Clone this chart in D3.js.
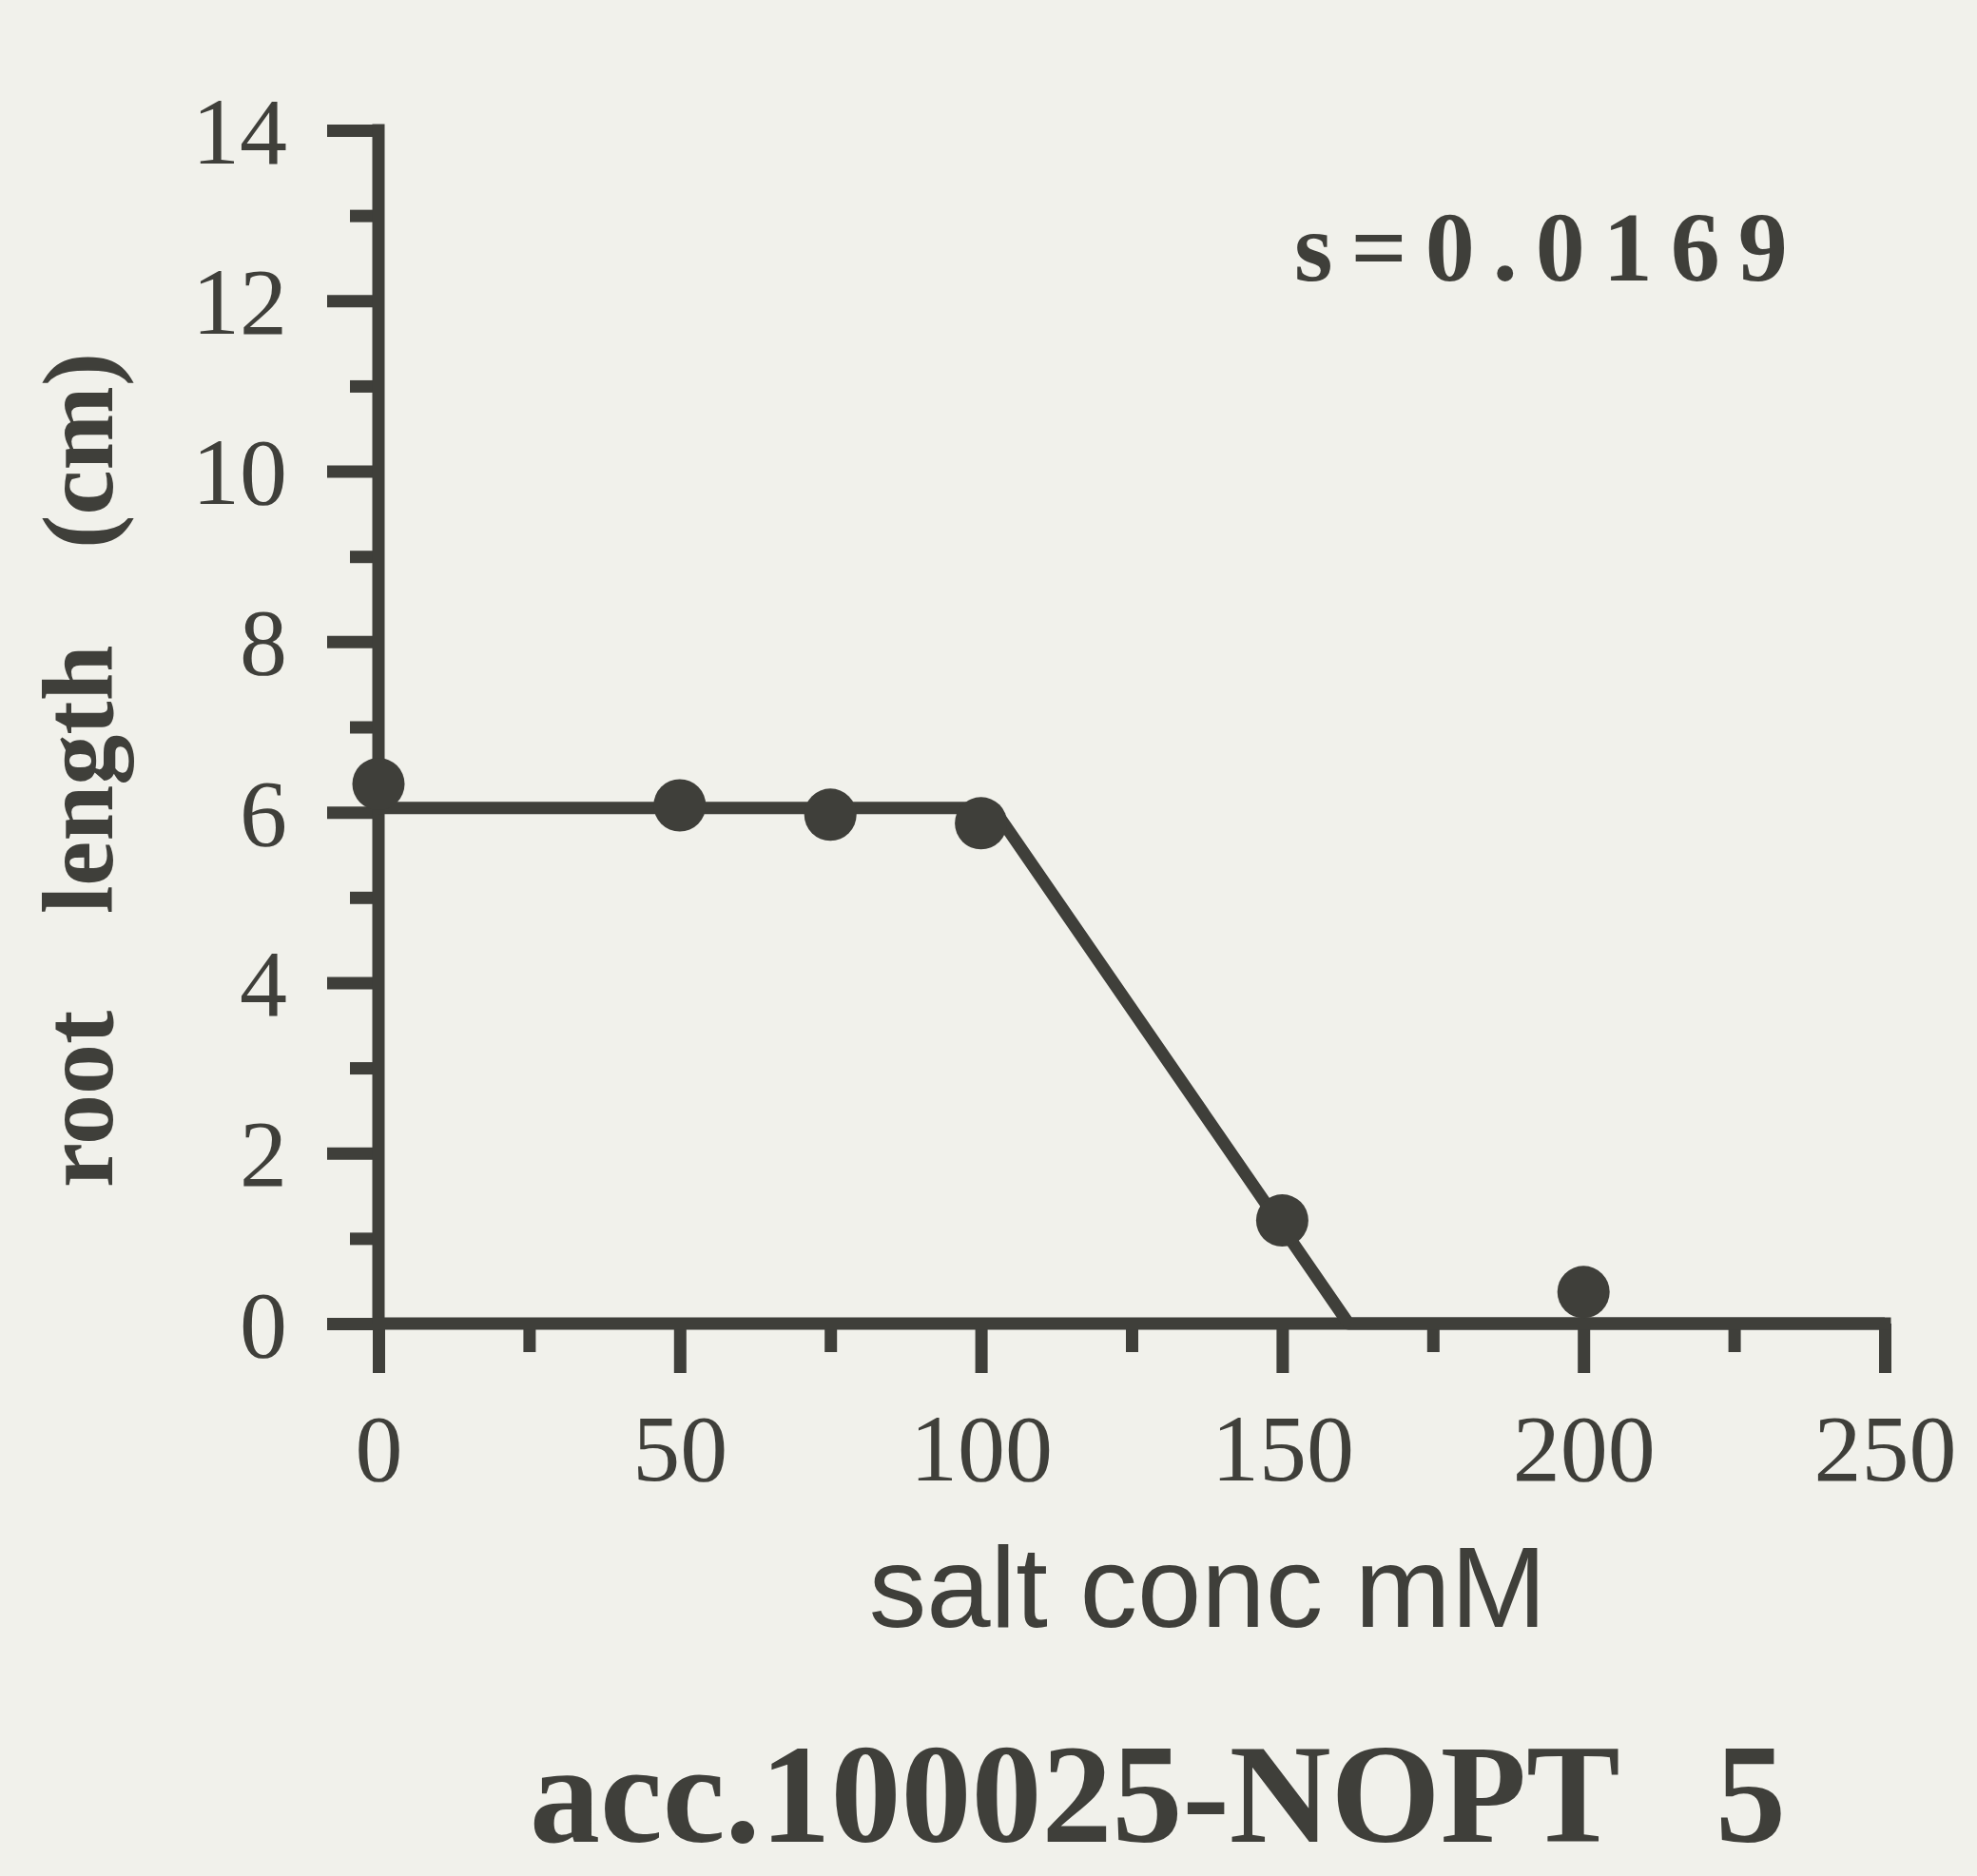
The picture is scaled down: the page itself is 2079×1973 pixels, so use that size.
<!DOCTYPE html>
<html>
<head>
<meta charset="utf-8">
<script src="https://cdn.jsdelivr.net/npm/d3@7"></script>
<style>
  html, body { margin: 0; padding: 0; background: #f1f1eb; }
  svg { display: block; }
</style>
</head>
<body>
<svg id="chart" width="2079" height="1973"></svg>
<script>
// measured points
const saltConc = [0, 50, 75, 100, 150, 200];
const rootLength = [6.33, 6.08, 5.97, 5.87, 1.21, 0.37];

// fitted broken-line model
const fitX = [0, 102, 161, 250];
const fitY = [6.05, 6.05, 0, 0];

const xMajorTicks = [0, 50, 100, 150, 200, 250];
const xMinorTicks = [25, 75, 125, 175, 225];
const yMajorTicks = [0, 2, 4, 6, 8, 10, 12, 14];
const yMinorTicks = [1, 3, 5, 7, 9, 11, 13];

const slopeText = 's=0.0169';
const xTitle = 'salt conc mM';
const yTitle = 'root length (cm)';
const chartTitle = 'acc.100025-NOPT';
const chartNumber = '5';

const INK = '#3f3f3a';
const SERIF = '"Liberation Serif", "Times New Roman", serif';
const SANS = '"Liberation Sans", Arial, sans-serif';

const svg = d3.select('#chart');

const x = d3.scaleLinear().domain([0, 250]).range([398, 1982]);
const y = d3.scaleLinear().domain([0, 14]).range([1392, 137]);

const AXIS_W = 13;

// y axis: major ticks with labels
const yAxis = svg.append('g')
  .attr('transform', `translate(${x(0)},0)`)
  .call(d3.axisLeft(y).tickValues(yMajorTicks).tickSize(54).tickSizeOuter(0).tickPadding(42));
yAxis.select('.domain').remove();
yAxis.selectAll('.tick line').attr('stroke', INK).attr('stroke-width', AXIS_W);
yAxis.selectAll('.tick text')
  .attr('fill', INK)
  .attr('font-family', SERIF)
  .attr('font-size', 100)
  .attr('dy', '0.34em');

// y minor ticks
svg.append('g')
  .attr('transform', `translate(${x(0)},0)`)
  .call(d3.axisLeft(y).tickValues(yMinorTicks).tickSize(30).tickFormat(''))
  .call(g => g.select('.domain').remove())
  .selectAll('.tick line').attr('stroke', INK).attr('stroke-width', AXIS_W);

// x axis: major ticks with labels
const xAxis = svg.append('g')
  .attr('transform', `translate(0,${y(0)})`)
  .call(d3.axisBottom(x).tickValues(xMajorTicks).tickSize(52).tickSizeOuter(0).tickPadding(42));
xAxis.select('.domain').remove();
xAxis.selectAll('.tick line').attr('stroke', INK).attr('stroke-width', AXIS_W);
xAxis.selectAll('.tick text')
  .attr('fill', INK)
  .attr('font-family', SERIF)
  .attr('font-size', 100)
  .attr('dy', '0.71em');

// x minor ticks
svg.append('g')
  .attr('transform', `translate(0,${y(0)})`)
  .call(d3.axisBottom(x).tickValues(xMinorTicks).tickSize(30).tickFormat(''))
  .call(g => g.select('.domain').remove())
  .selectAll('.tick line').attr('stroke', INK).attr('stroke-width', AXIS_W);

// axis lines
svg.append('line')
  .attr('x1', x(0)).attr('x2', x(0))
  .attr('y1', y(14) - AXIS_W / 2).attr('y2', y(0))
  .attr('stroke', INK).attr('stroke-width', AXIS_W);
svg.append('line')
  .attr('x1', x(0)).attr('x2', x(250) + AXIS_W / 2)
  .attr('y1', y(0)).attr('y2', y(0))
  .attr('stroke', INK).attr('stroke-width', AXIS_W);

// fitted line
const fit = fitX.map((d, i) => [d, fitY[i]]);
svg.append('path')
  .datum(fit)
  .attr('fill', 'none')
  .attr('stroke', INK)
  .attr('stroke-width', 13)
  .attr('stroke-linejoin', 'round')
  .attr('d', d3.line().x(d => x(d[0])).y(d => y(d[1])));

// data points
svg.append('g')
  .selectAll('circle')
  .data(saltConc.map((d, i) => [d, rootLength[i]]))
  .enter()
  .append('circle')
  .attr('cx', d => x(d[0]))
  .attr('cy', d => y(d[1]))
  .attr('r', 27.5)
  .attr('fill', INK);

// annotation
svg.append('text')
  .attr('x', 1361)
  .attr('y', 295)
  .attr('fill', INK)
  .attr('font-family', SERIF)
  .attr('font-weight', 'bold')
  .attr('font-size', 104)
  .attr('letter-spacing', 19)
  .text(slopeText);

// axis titles
svg.append('text')
  .attr('x', 1270)
  .attr('y', 1711)
  .attr('text-anchor', 'middle')
  .attr('fill', INK)
  .attr('font-family', SANS)
  .attr('font-size', 121)
  .text(xTitle);

svg.append('text')
  .attr('transform', 'translate(118,810) rotate(-90)')
  .attr('text-anchor', 'middle')
  .attr('fill', INK)
  .attr('font-family', SERIF)
  .attr('font-weight', 'bold')
  .attr('font-size', 106)
  .attr('word-spacing', 75)
  .text(yTitle);

// chart caption
svg.append('text')
  .attr('x', 557)
  .attr('y', 1937)
  .attr('fill', INK)
  .attr('font-family', SERIF)
  .attr('font-weight', 'bold')
  .attr('font-size', 148)
  .text(chartTitle);

svg.append('text')
  .attr('x', 1878)
  .attr('y', 1937)
  .attr('text-anchor', 'end')
  .attr('fill', INK)
  .attr('font-family', SERIF)
  .attr('font-weight', 'bold')
  .attr('font-size', 148)
  .text(chartNumber);
</script>
</body>
</html>
